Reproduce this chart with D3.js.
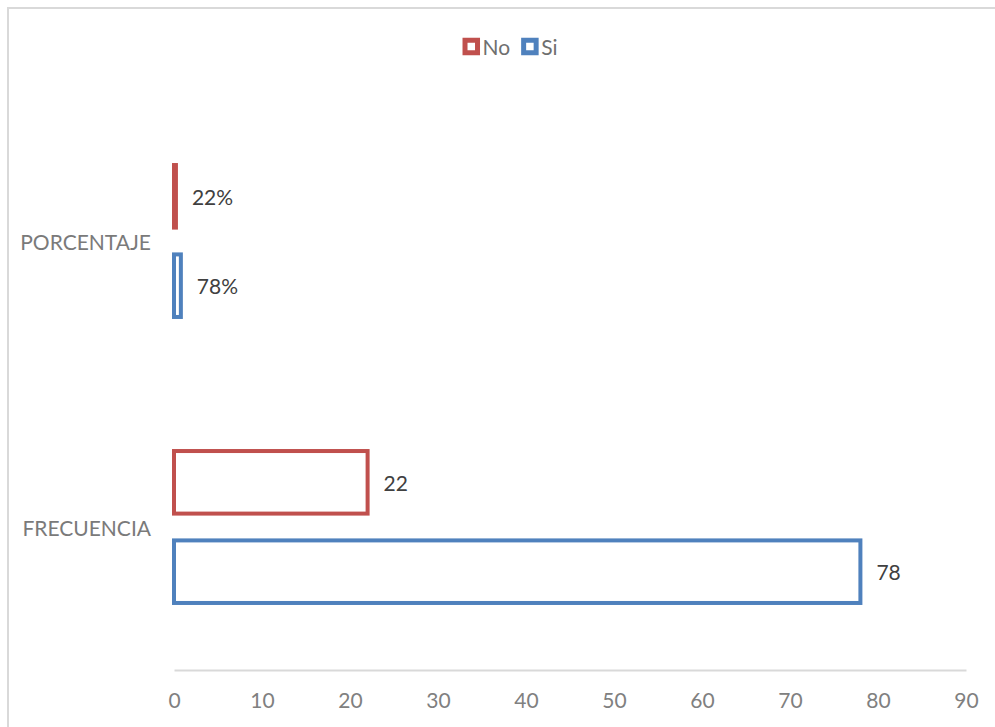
<!DOCTYPE html>
<html>
<head>
<meta charset="utf-8">
<script src="https://cdn.jsdelivr.net/npm/d3@7"></script>
<style>
  html, body { margin: 0; padding: 0; background: #fff; }
  svg { display: block; }
  text { font-family: Lato, "Open Sans", sans-serif; }
</style>
</head>
<body>
<svg id="chart" width="995" height="727"></svg>
<script>
// Categories (top to bottom) and series
const categories = ["PORCENTAJE", "FRECUENCIA"];
const seriesNames = ["No", "Si"];
const seriesColors = ["#C0504D", "#4F81BD"];

// Values per series, in category order
const noValues = [0.22, 22];
const siValues = [0.78, 78];

// Data label text per series, in category order
const noLabels = ["22%", "22"];
const siLabels = ["78%", "78"];

const xTicks = [0, 10, 20, 30, 40, 50, 60, 70, 80, 90];

const svg = d3.select("#chart");
const W = 995, H = 727;

// Chart frame
svg.append("rect")
  .attr("x", 8).attr("y", 8)
  .attr("width", W + 20).attr("height", H + 20)
  .attr("fill", "#fff")
  .attr("stroke", "#d9d9d9").attr("stroke-width", 2);

const plot = { left: 174, right: 966, top: 98, bottom: 670 };

const x = d3.scaleLinear().domain([0, 90]).range([plot.left, plot.right]);
const y0 = d3.scaleBand().domain(categories).range([plot.top, plot.bottom]).padding(0);
const y1 = d3.scaleBand().domain(seriesNames).range([0, y0.bandwidth()])
  .paddingInner(0.30).paddingOuter(0.75);

const rows = [];
categories.forEach((c, i) => {
  rows.push({ cat: c, s: "No", v: noValues[i], label: noLabels[i], color: seriesColors[0] });
  rows.push({ cat: c, s: "Si", v: siValues[i], label: siLabels[i], color: seriesColors[1] });
});

// Horizontal axis
const xAxis = d3.axisBottom(x).tickValues(xTicks).tickSize(0).tickPadding(23);
const gx = svg.append("g").attr("transform", `translate(0,${plot.bottom})`).call(xAxis);
gx.select(".domain").attr("stroke", "#d9d9d9").attr("stroke-width", 2);
gx.selectAll("text")
  .attr("fill", "#808080")
  .style("font-size", "21px")
  .style("font-family", "Lato, 'Open Sans', sans-serif");

// Category labels
svg.append("g").selectAll("text")
  .data(categories)
  .join("text")
  .attr("x", 151)
  .attr("y", d => y0(d) + y0.bandwidth() / 2)
  .attr("text-anchor", "end")
  .attr("dominant-baseline", "central")
  .attr("fill", "#7a7a7a")
  .style("font-size", "21px")
  .text(d => d);

// Outlined bars
const sw = 4;
svg.append("g").selectAll("rect")
  .data(rows)
  .join("rect")
  .attr("x", x(0))
  .attr("y", d => y0(d.cat) + y1(d.s))
  .attr("width", d => x(d.v) - x(0))
  .attr("height", y1.bandwidth())
  .attr("fill", "#fff")
  .attr("stroke", d => d.color)
  .attr("stroke-width", sw);

// Data labels
svg.append("g").selectAll("text")
  .data(rows)
  .join("text")
  .attr("x", d => x(d.v) + 16)
  .attr("y", d => y0(d.cat) + y1(d.s) + y1.bandwidth() / 2)
  .attr("dominant-baseline", "central")
  .attr("fill", "#404040")
  .style("font-size", "21px")
  .text(d => d.label);

// Legend
const legend = svg.append("g");
let lx = 0;
seriesNames.forEach((name, i) => {
  const g = legend.append("g").attr("transform", `translate(${lx},0)`);
  g.append("rect")
    .attr("x", 2.5).attr("y", -6.25)
    .attr("width", 12.5).attr("height", 12.5)
    .attr("fill", "#fff")
    .attr("stroke", seriesColors[i]).attr("stroke-width", 5);
  const t = g.append("text")
    .attr("x", 20).attr("y", 0)
    .attr("dominant-baseline", "central")
    .attr("fill", "#6f6f6f")
    .style("font-size", "21px")
    .text(name);
  lx += 20 + t.node().getComputedTextLength() + 11;
});
const legendW = lx - 11;
legend.attr("transform", `translate(${(460 + 560) / 2 - legendW / 2},46.5)`);
</script>
</body>
</html>
